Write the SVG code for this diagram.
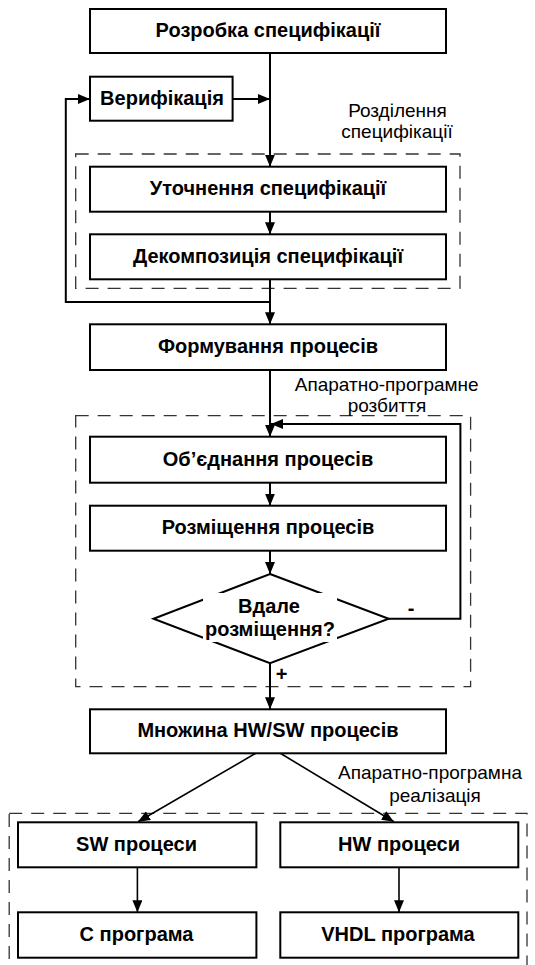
<svg xmlns="http://www.w3.org/2000/svg" width="535" height="965" viewBox="0 0 535 965">
<style>
.box{fill:#fff;stroke:#000;stroke-width:2}
.bt{font-family:"Liberation Sans",Arial,sans-serif;font-size:20px;font-weight:bold;text-anchor:middle;fill:#000}
.lbl{font-family:"Liberation Sans",Arial,sans-serif;font-size:19px;text-anchor:middle;fill:#000}
.dash{fill:none;stroke:#333;stroke-width:1.3;stroke-dasharray:13 9}
.ln{fill:none;stroke:#000;stroke-width:2}
.ln2{fill:none;stroke:#000;stroke-width:1.6}
</style>
<defs>
<marker id="ah" viewBox="0 0 12 10" refX="12" refY="5" markerWidth="12" markerHeight="10" markerUnits="userSpaceOnUse" orient="auto">
<path d="M0,0 L12,5 L0,10 Z" fill="#000"/>
</marker>
</defs>
<g id="groups">
<rect class="dash" x="75.7" y="154" width="384.3" height="134.3"/>
<rect class="dash" x="75.7" y="415.7" width="394.9" height="271"/>
<rect class="dash" x="9.2" y="813.3" width="517.8" height="160"/>
<text class="lbl" x="397.5" y="116.5">Розділення</text>
<text class="lbl" x="397" y="137.5">специфікації</text>
<text class="lbl" x="386.7" y="390.7">Апаратно-програмне</text>
<text class="lbl" x="387" y="411.5">розбиття</text>
<text class="lbl" x="430" y="779.3">Апаратно-програмна</text>
<text class="lbl" x="435" y="801.7">реалізація</text>
</g>
<g id="connectors">
<path class="ln" d="M270,53 V166.7" marker-end="url(#ah)"/>
<path class="ln" d="M232.6,99 H270" marker-end="url(#ah)"/>
<path class="ln" d="M270,211.7 V234.3" marker-end="url(#ah)"/>
<path class="ln" d="M270,279.3 V324.3" marker-end="url(#ah)"/>
<path class="ln" d="M270,302 H65.8 V99 H90" marker-end="url(#ah)"/>
<path class="ln" d="M270,370 V436.7" marker-end="url(#ah)"/>
<path class="ln" d="M388.7,618.7 H460.4 V424 H271" marker-end="url(#ah)"/>
<path class="ln" d="M270,482.7 V505.7" marker-end="url(#ah)"/>
<path class="ln" d="M270,550.7 V574" marker-end="url(#ah)"/>
<path class="ln" d="M270,663.3 V709.3" marker-end="url(#ah)"/>
<path class="ln2" d="M255.8,753.3 L138,821.7" marker-end="url(#ah)"/>
<path class="ln2" d="M280.3,753.3 L393.9,821.7" marker-end="url(#ah)"/>
<path class="ln2" d="M137.4,867.3 V912.3" marker-end="url(#ah)"/>
<path class="ln2" d="M399,867.3 V912.3" marker-end="url(#ah)"/>
<text class="bt" x="411" y="615">-</text>
<text class="bt" x="281.5" y="681">+</text>
</g>
<g id="n1"><rect class="box" x="90" y="9" width="356" height="44"/><text class="bt" x="268" y="37">Розробка специфікації</text></g>
<g id="n2"><rect class="box" x="90" y="76.7" width="142.6" height="44"/><text class="bt" x="162" y="104.7">Верифікація</text></g>
<g id="n3"><rect class="box" x="90" y="166.7" width="356" height="45"/><text class="bt" x="268" y="195">Уточнення специфікації</text></g>
<g id="n4"><rect class="box" x="90" y="234.3" width="356" height="45"/><text class="bt" x="268" y="262.8">Декомпозиція специфікації</text></g>
<g id="n5"><rect class="box" x="90" y="324.3" width="356" height="45.7"/><text class="bt" x="268" y="353.2">Формування процесів</text></g>
<g id="n6"><rect class="box" x="90" y="436.7" width="356" height="46"/><text class="bt" x="268" y="465.7">Об’єднання процесів</text></g>
<g id="n7"><rect class="box" x="90" y="505.7" width="356" height="45"/><text class="bt" x="268" y="534.2">Розміщення процесів</text></g>
<g id="n8"><path class="box" d="M270,574 L388.7,618.7 L270,663.3 L153.5,618.7 Z"/><rect x="203" y="593" width="134" height="49" fill="#fff"/><text class="bt" x="269" y="613.3">Вдале</text><text class="bt" x="270" y="635.5">розміщення?</text></g>
<g id="n9"><rect class="box" x="90" y="709.3" width="356" height="44"/><text class="bt" x="268" y="737.3">Множина HW/SW процесів</text></g>
<g id="n10"><rect class="box" x="18" y="822.3" width="238.4" height="45"/><text class="bt" x="136.5" y="850.8">SW процеси</text></g>
<g id="n11"><rect class="box" x="280.3" y="822.3" width="238" height="45"/><text class="bt" x="399" y="850.8">HW процеси</text></g>
<g id="n12"><rect class="box" x="18" y="912.3" width="238.4" height="45.4"/><text class="bt" x="136.5" y="941">С програма</text></g>
<g id="n13"><rect class="box" x="280.3" y="912.3" width="238" height="45.4"/><text class="bt" x="398" y="941">VHDL програма</text></g>
</svg>
